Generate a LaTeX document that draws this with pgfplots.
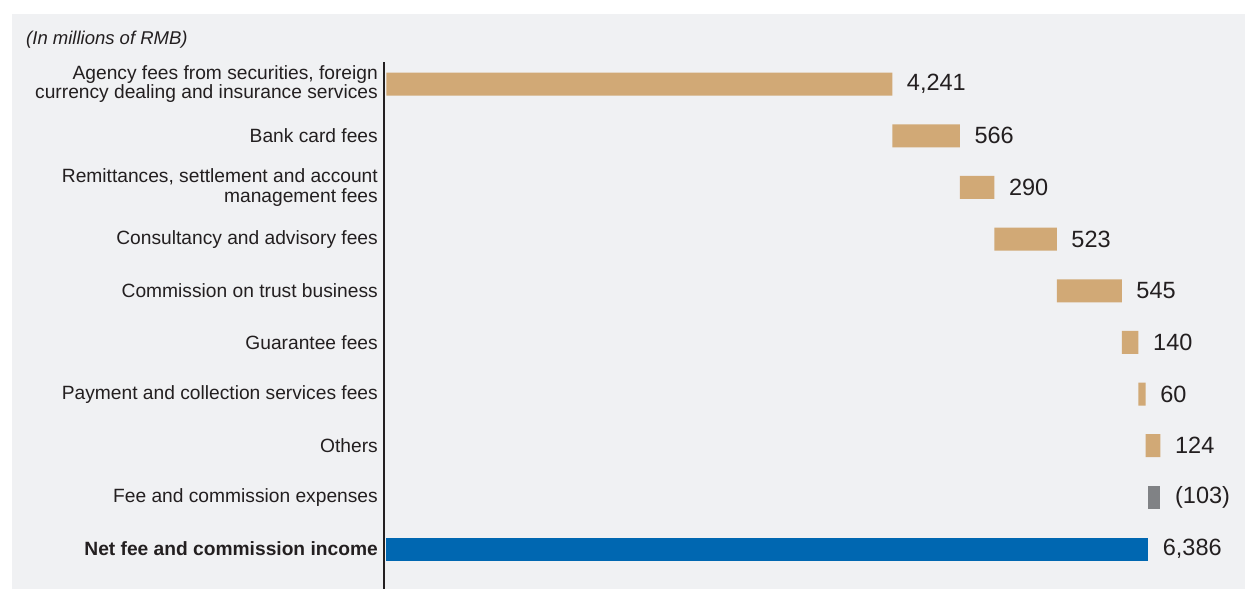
\documentclass[border=0pt]{standalone}
\usepackage{fontspec}
\setmainfont{Liberation Sans}
\usepackage{pgfplots}
\usepackage{pgfplotstable}
\pgfplotsset{compat=1.18}
\definecolor{panel}{HTML}{F0F1F3}
\definecolor{tanc}{HTML}{D1A976}
\definecolor{gryc}{HTML}{808285}
\definecolor{bluc}{HTML}{0067B1}
\definecolor{txt}{HTML}{231F20}

\pgfplotstableread{
y base tan gray blue lab lbl
9 0    4241 0   0    0.01 {4,241}
8 4241 566  0   0    0.01 566
7 4807 290  0   0    0.01 290
6 5097 523  0   0    0.01 523
5 5620 545  0   0    0.01 545
4 6165 140  0   0    0.01 140
3 6305 60   0   0    0.01 60
2 6365 124  0   0    0.01 124
1 6386 0    103 0    0.01 {(103)}
0 0    0    0   6386 0.01 {6,386}
}\data

\begin{document}
\begin{tikzpicture}[x=1bp,y=1bp]
\fill[white] (0,0) rectangle (1245,589);
\fill[panel] (12,0) rectangle (1245,575);
\node[anchor=base west, font=\fontsize{18.5bp}{20bp}\selectfont\itshape, text=txt, inner sep=0pt] at (26,544) {(In millions of RMB)};
\begin{axis}[
 at={(384bp,0bp)}, anchor=south west,
 scale only axis, width=835bp, height=527bp,
 xmin=-20, xmax=6980, ymin=-0.774, ymax=9.43,
 xbar stacked, bar width=23bp,
 axis y line*=left, axis x line=none,
 y axis line style={line width=2.5bp, color=txt, -},
 ytick={0,...,9},
 yticklabels={{\textbf{Net fee and commission income}},
   {Fee and commission expenses},
   {Others},
   {Payment and collection services fees},
   {Guarantee fees},
   {Commission on trust business},
   {Consultancy and advisory fees},
   {Remittances, settlement and account\\management fees},
   {Bank card fees},
   {Agency fees from securities, foreign\\currency dealing and insurance services}},
 major tick length=0pt,
 yticklabel style={align=right, anchor=east, inner sep=0pt, xshift=-6bp,
   font=\fontsize{19.2bp}{19.5bp}\selectfont, text=txt},
 clip=false,
]
\addplot[draw=none, fill=none] table[x=base, y=y] {\data};
\addplot[draw=none, fill=tanc] table[x=tan, y=y] {\data};
\addplot[draw=none, fill=gryc] table[x=gray, y=y] {\data};
\addplot[draw=none, fill=bluc] table[x=blue, y=y] {\data};
\addplot[draw=none, fill=none, point meta=explicit symbolic, nodes near coords,
  every node near coord/.append style={anchor=west, inner sep=0pt, xshift=14.5bp,
   font=\fontsize{23.5bp}{24bp}\selectfont, text=txt}] table[x=lab, y=y, meta=lbl] {\data};
\end{axis}
\pgfresetboundingbox
\useasboundingbox (0,0) rectangle (1245,589);
\end{tikzpicture}
\end{document}
